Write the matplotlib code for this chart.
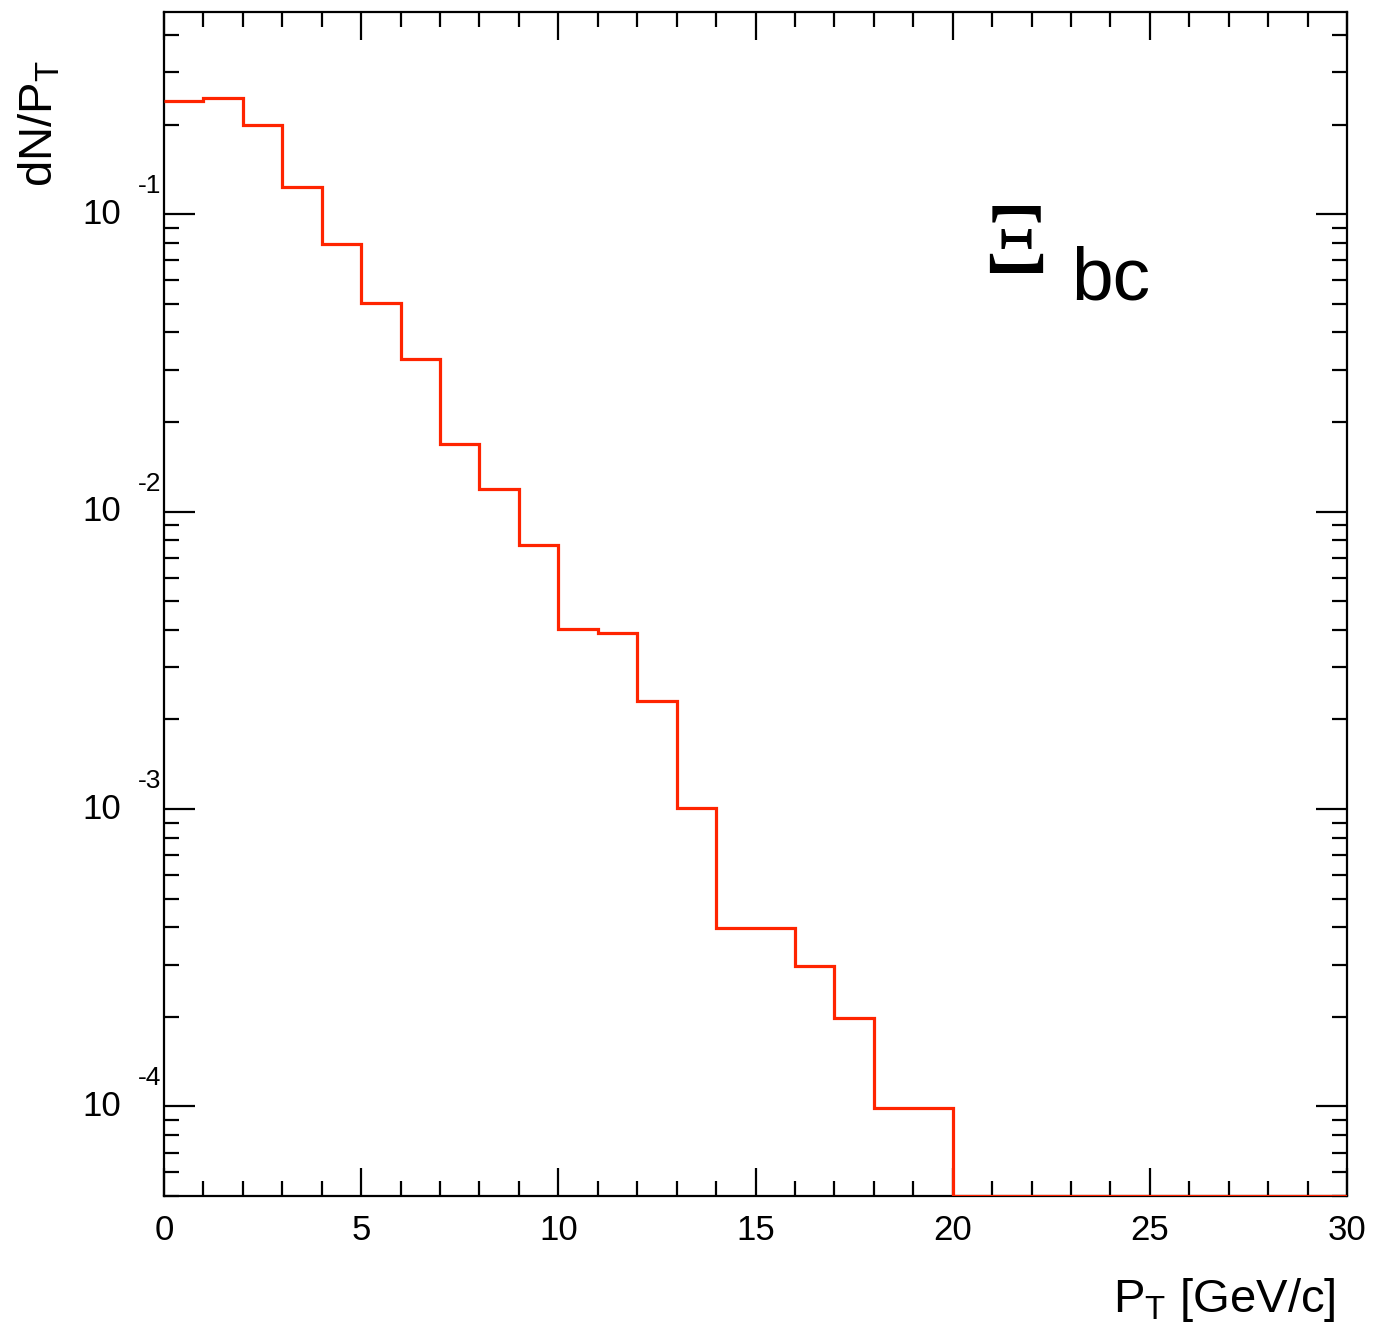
import numpy as np
import matplotlib
matplotlib.use("Agg")
import matplotlib.pyplot as plt
from matplotlib.ticker import MultipleLocator, LogLocator, NullFormatter
import matplotlib.transforms as mtransforms

# ---- data ----
bin_edges = list(range(0, 31))
bin_values = [0.240, 0.245, 0.199, 0.123, 0.0792, 0.0502, 0.0326, 0.0169,
              0.0119, 0.00769, 0.00402, 0.00390, 0.00230, 0.00101, 3.98e-4,
              3.98e-4, 2.97e-4, 1.98e-4, 9.9e-5, 9.9e-5,
              0, 0, 0, 0, 0, 0, 0, 0, 0, 0]
x_ticks = [0, 5, 10, 15, 20, 25, 30]
y_major = [1e-4, 1e-3, 1e-2, 1e-1]
y_exponents = ["-4", "-3", "-2", "-1"]
ymin, ymax = 5e-5, 0.478

plt.rcParams['font.family'] = ['Liberation Sans', 'DejaVu Sans']

fig = plt.figure(figsize=(13.79, 13.27), dpi=100)
ax = fig.add_axes([164/1379, 1 - 1196/1327, (1347-164)/1379, (1196-12)/1327])

vals = np.array(bin_values, dtype=float)
draw_vals = np.where(vals > 0, vals, ymin)
ax.stairs(draw_vals, bin_edges, color='#ff2400', linewidth=2.3, baseline=None, zorder=3)

ax.set_yscale('log')
ax.set_xlim(0, 30)
ax.set_ylim(ymin, ymax)

for s in ax.spines.values():
    s.set_linewidth(1.6)
    s.set_color('black')

ax.xaxis.set_major_locator(MultipleLocator(5))
ax.xaxis.set_minor_locator(MultipleLocator(1))
ax.set_xticks(x_ticks)
ax.set_xticklabels([str(t) for t in x_ticks])
ax.yaxis.set_major_locator(LogLocator(base=10, numticks=10))
ax.yaxis.set_minor_locator(LogLocator(base=10, subs=np.arange(2, 10), numticks=20))
ax.yaxis.set_major_formatter(NullFormatter())
ax.yaxis.set_minor_formatter(NullFormatter())

ax.tick_params(which='both', direction='in', top=True, right=True, width=1.6, color='black')
ax.tick_params(axis='x', which='major', length=20, labelsize=25, pad=13)
ax.tick_params(axis='x', which='minor', length=11)
ax.tick_params(axis='y', which='major', length=22)
ax.tick_params(axis='y', which='minor', length=11)

# ROOT-style y tick labels: "10" with raised exponent
trans = mtransforms.blended_transform_factory(ax.transAxes, ax.transData)
off_up = mtransforms.ScaledTranslation(0, 28/100, fig.dpi_scale_trans)
for v, e in zip(y_major, y_exponents):
    ax.text(-0.036, v, "10", transform=trans, ha='right', va='center',
            fontsize=25, clip_on=False)
    ax.text(-0.022, v, e, transform=trans + off_up, ha='left', va='center',
            fontsize=19, clip_on=False)

# axis titles
fig.text(40/1379, 1 - 60/1327, r"dN/P$_{\mathregular{T}}$", rotation=90, ha='center', va='top',
         fontsize=34)
fig.text(1336/1379, 1 - 1312/1327, r"P$_{\mathregular{T}}$ [GeV/c]", ha='right', va='baseline',
         fontsize=34)

# particle label
ax.text(0.692, 0.7796, "\u039e", transform=ax.transAxes, fontsize=73,
        family=['Liberation Serif', 'DejaVu Serif'], ha='left', va='baseline')
ax.text(0.767, 0.757, "bc", transform=ax.transAxes, fontsize=54, ha='left', va='baseline')

fig.savefig("out.png", dpi=100, facecolor='white')
